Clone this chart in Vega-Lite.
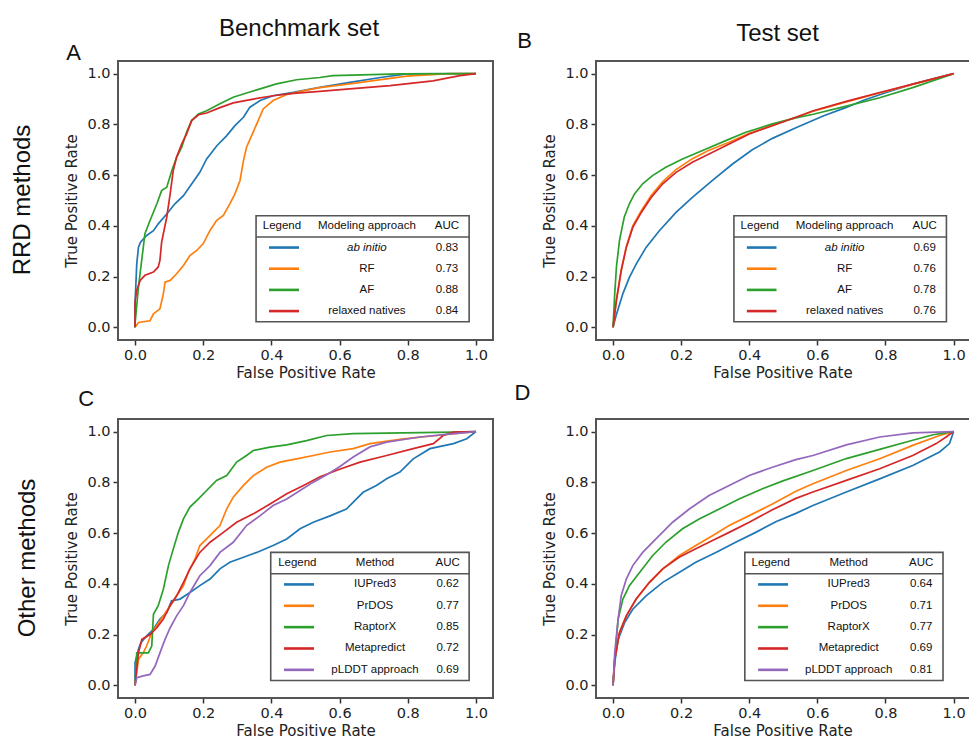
{
  "$schema": "https://vega.github.io/schema/vega-lite/v6.json",
  "background": "white",
  "padding": {"left": 11, "top": 16, "right": 0, "bottom": 0},
  "columns": 2,
  "spacing": {"row": 79, "column": 103},
  "bounds": "flush",
  "config": {
    "view": {"stroke": null},
    "axis": {"grid": false, "domain": false, "labelFont": "DejaVu Sans", "labelFontSize": 14.5, "labelColor": "#222", "titleFont": "DejaVu Sans", "titleFontSize": 15, "titleFontWeight": "normal", "titleColor": "#222", "tickColor": "#333", "tickWidth": 1.5, "tickSize": 5, "labelPadding": 3},
    "text": {"font": "Liberation Sans", "baseline": "middle", "align": "center", "color": "#111"}
  },
  "datasets": {
    "roc": [
      {"panel":"A","method":"ab initio","fpr":0,"tpr":0},{"panel":"A","method":"ab initio","fpr":0,"tpr":0.093},{"panel":"A","method":"ab initio","fpr":0.005,"tpr":0.25},{"panel":"A","method":"ab initio","fpr":0.01,"tpr":0.316},{"panel":"A","method":"ab initio","fpr":0.016,"tpr":0.336},{"panel":"A","method":"ab initio","fpr":0.034,"tpr":0.362},{"panel":"A","method":"ab initio","fpr":0.054,"tpr":0.381},{"panel":"A","method":"ab initio","fpr":0.068,"tpr":0.408},{"panel":"A","method":"ab initio","fpr":0.093,"tpr":0.447},{"panel":"A","method":"ab initio","fpr":0.117,"tpr":0.487},{"panel":"A","method":"ab initio","fpr":0.142,"tpr":0.519},{"panel":"A","method":"ab initio","fpr":0.166,"tpr":0.565},{"panel":"A","method":"ab initio","fpr":0.19,"tpr":0.611},{"panel":"A","method":"ab initio","fpr":0.21,"tpr":0.664},{"panel":"A","method":"ab initio","fpr":0.24,"tpr":0.716},{"panel":"A","method":"ab initio","fpr":0.269,"tpr":0.756},{"panel":"A","method":"ab initio","fpr":0.293,"tpr":0.795},{"panel":"A","method":"ab initio","fpr":0.318,"tpr":0.828},{"panel":"A","method":"ab initio","fpr":0.337,"tpr":0.868},{"panel":"A","method":"ab initio","fpr":0.367,"tpr":0.894},{"panel":"A","method":"ab initio","fpr":0.405,"tpr":0.913},{"panel":"A","method":"ab initio","fpr":0.464,"tpr":0.926},{"panel":"A","method":"ab initio","fpr":0.542,"tpr":0.946},{"panel":"A","method":"ab initio","fpr":0.63,"tpr":0.966},{"panel":"A","method":"ab initio","fpr":0.72,"tpr":0.985},{"panel":"A","method":"ab initio","fpr":0.797,"tpr":0.999},{"panel":"A","method":"ab initio","fpr":1,"tpr":1},
      {"panel":"A","method":"RF","fpr":0,"tpr":0},{"panel":"A","method":"RF","fpr":0.01,"tpr":0.019},{"panel":"A","method":"RF","fpr":0.044,"tpr":0.026},{"panel":"A","method":"RF","fpr":0.054,"tpr":0.053},{"panel":"A","method":"RF","fpr":0.073,"tpr":0.073},{"panel":"A","method":"RF","fpr":0.083,"tpr":0.132},{"panel":"A","method":"RF","fpr":0.088,"tpr":0.178},{"panel":"A","method":"RF","fpr":0.103,"tpr":0.185},{"panel":"A","method":"RF","fpr":0.122,"tpr":0.211},{"panel":"A","method":"RF","fpr":0.142,"tpr":0.244},{"panel":"A","method":"RF","fpr":0.161,"tpr":0.283},{"panel":"A","method":"RF","fpr":0.181,"tpr":0.303},{"panel":"A","method":"RF","fpr":0.2,"tpr":0.33},{"panel":"A","method":"RF","fpr":0.22,"tpr":0.382},{"panel":"A","method":"RF","fpr":0.239,"tpr":0.421},{"panel":"A","method":"RF","fpr":0.259,"tpr":0.441},{"panel":"A","method":"RF","fpr":0.278,"tpr":0.487},{"panel":"A","method":"RF","fpr":0.293,"tpr":0.526},{"panel":"A","method":"RF","fpr":0.308,"tpr":0.579},{"panel":"A","method":"RF","fpr":0.318,"tpr":0.657},{"panel":"A","method":"RF","fpr":0.327,"tpr":0.71},{"panel":"A","method":"RF","fpr":0.342,"tpr":0.756},{"panel":"A","method":"RF","fpr":0.357,"tpr":0.802},{"panel":"A","method":"RF","fpr":0.376,"tpr":0.861},{"panel":"A","method":"RF","fpr":0.405,"tpr":0.894},{"panel":"A","method":"RF","fpr":0.445,"tpr":0.918},{"panel":"A","method":"RF","fpr":0.503,"tpr":0.935},{"panel":"A","method":"RF","fpr":0.542,"tpr":0.945},{"panel":"A","method":"RF","fpr":0.63,"tpr":0.96},{"panel":"A","method":"RF","fpr":0.797,"tpr":0.99},{"panel":"A","method":"RF","fpr":0.92,"tpr":1},{"panel":"A","method":"RF","fpr":1,"tpr":1},
      {"panel":"A","method":"AF","fpr":0,"tpr":0},{"panel":"A","method":"AF","fpr":0,"tpr":0.014},{"panel":"A","method":"AF","fpr":0.01,"tpr":0.159},{"panel":"A","method":"AF","fpr":0.029,"tpr":0.369},{"panel":"A","method":"AF","fpr":0.044,"tpr":0.421},{"panel":"A","method":"AF","fpr":0.064,"tpr":0.487},{"panel":"A","method":"AF","fpr":0.078,"tpr":0.539},{"panel":"A","method":"AF","fpr":0.093,"tpr":0.552},{"panel":"A","method":"AF","fpr":0.108,"tpr":0.618},{"panel":"A","method":"AF","fpr":0.122,"tpr":0.671},{"panel":"A","method":"AF","fpr":0.137,"tpr":0.71},{"panel":"A","method":"AF","fpr":0.151,"tpr":0.769},{"panel":"A","method":"AF","fpr":0.166,"tpr":0.815},{"panel":"A","method":"AF","fpr":0.186,"tpr":0.841},{"panel":"A","method":"AF","fpr":0.21,"tpr":0.854},{"panel":"A","method":"AF","fpr":0.249,"tpr":0.881},{"panel":"A","method":"AF","fpr":0.288,"tpr":0.907},{"panel":"A","method":"AF","fpr":0.327,"tpr":0.924},{"panel":"A","method":"AF","fpr":0.367,"tpr":0.94},{"panel":"A","method":"AF","fpr":0.415,"tpr":0.96},{"panel":"A","method":"AF","fpr":0.474,"tpr":0.976},{"panel":"A","method":"AF","fpr":0.542,"tpr":0.985},{"panel":"A","method":"AF","fpr":0.58,"tpr":0.992},{"panel":"A","method":"AF","fpr":0.777,"tpr":0.999},{"panel":"A","method":"AF","fpr":1,"tpr":1},
      {"panel":"A","method":"relaxed natives","fpr":0,"tpr":0},{"panel":"A","method":"relaxed natives","fpr":0,"tpr":0.1},{"panel":"A","method":"relaxed natives","fpr":0.005,"tpr":0.146},{"panel":"A","method":"relaxed natives","fpr":0.015,"tpr":0.185},{"panel":"A","method":"relaxed natives","fpr":0.029,"tpr":0.205},{"panel":"A","method":"relaxed natives","fpr":0.054,"tpr":0.218},{"panel":"A","method":"relaxed natives","fpr":0.068,"tpr":0.238},{"panel":"A","method":"relaxed natives","fpr":0.073,"tpr":0.264},{"panel":"A","method":"relaxed natives","fpr":0.078,"tpr":0.336},{"panel":"A","method":"relaxed natives","fpr":0.083,"tpr":0.369},{"panel":"A","method":"relaxed natives","fpr":0.093,"tpr":0.434},{"panel":"A","method":"relaxed natives","fpr":0.103,"tpr":0.526},{"panel":"A","method":"relaxed natives","fpr":0.112,"tpr":0.618},{"panel":"A","method":"relaxed natives","fpr":0.122,"tpr":0.671},{"panel":"A","method":"relaxed natives","fpr":0.137,"tpr":0.723},{"panel":"A","method":"relaxed natives","fpr":0.151,"tpr":0.762},{"panel":"A","method":"relaxed natives","fpr":0.166,"tpr":0.815},{"panel":"A","method":"relaxed natives","fpr":0.186,"tpr":0.838},{"panel":"A","method":"relaxed natives","fpr":0.21,"tpr":0.845},{"panel":"A","method":"relaxed natives","fpr":0.249,"tpr":0.866},{"panel":"A","method":"relaxed natives","fpr":0.288,"tpr":0.885},{"panel":"A","method":"relaxed natives","fpr":0.347,"tpr":0.9},{"panel":"A","method":"relaxed natives","fpr":0.405,"tpr":0.913},{"panel":"A","method":"relaxed natives","fpr":0.464,"tpr":0.922},{"panel":"A","method":"relaxed natives","fpr":0.542,"tpr":0.93},{"panel":"A","method":"relaxed natives","fpr":0.63,"tpr":0.94},{"panel":"A","method":"relaxed natives","fpr":0.748,"tpr":0.953},{"panel":"A","method":"relaxed natives","fpr":0.874,"tpr":0.972},{"panel":"A","method":"relaxed natives","fpr":0.953,"tpr":0.992},{"panel":"A","method":"relaxed natives","fpr":1,"tpr":1},

      {"panel":"B","method":"ab initio","fpr":0,"tpr":0},{"panel":"B","method":"ab initio","fpr":0.01,"tpr":0.051},{"panel":"B","method":"ab initio","fpr":0.029,"tpr":0.133},{"panel":"B","method":"ab initio","fpr":0.048,"tpr":0.197},{"panel":"B","method":"ab initio","fpr":0.068,"tpr":0.249},{"panel":"B","method":"ab initio","fpr":0.097,"tpr":0.315},{"panel":"B","method":"ab initio","fpr":0.136,"tpr":0.381},{"panel":"B","method":"ab initio","fpr":0.185,"tpr":0.453},{"panel":"B","method":"ab initio","fpr":0.233,"tpr":0.512},{"panel":"B","method":"ab initio","fpr":0.292,"tpr":0.579},{"panel":"B","method":"ab initio","fpr":0.351,"tpr":0.644},{"panel":"B","method":"ab initio","fpr":0.409,"tpr":0.7},{"panel":"B","method":"ab initio","fpr":0.468,"tpr":0.745},{"panel":"B","method":"ab initio","fpr":0.537,"tpr":0.787},{"panel":"B","method":"ab initio","fpr":0.617,"tpr":0.833},{"panel":"B","method":"ab initio","fpr":0.685,"tpr":0.867},{"panel":"B","method":"ab initio","fpr":0.734,"tpr":0.894},{"panel":"B","method":"ab initio","fpr":0.802,"tpr":0.926},{"panel":"B","method":"ab initio","fpr":0.88,"tpr":0.959},{"panel":"B","method":"ab initio","fpr":1,"tpr":1},
      {"panel":"B","method":"RF","fpr":0,"tpr":0},{"panel":"B","method":"RF","fpr":0.01,"tpr":0.107},{"panel":"B","method":"RF","fpr":0.024,"tpr":0.224},{"panel":"B","method":"RF","fpr":0.039,"tpr":0.318},{"panel":"B","method":"RF","fpr":0.058,"tpr":0.4},{"panel":"B","method":"RF","fpr":0.083,"tpr":0.46},{"panel":"B","method":"RF","fpr":0.112,"tpr":0.52},{"panel":"B","method":"RF","fpr":0.146,"tpr":0.575},{"panel":"B","method":"RF","fpr":0.185,"tpr":0.622},{"panel":"B","method":"RF","fpr":0.233,"tpr":0.665},{"panel":"B","method":"RF","fpr":0.282,"tpr":0.698},{"panel":"B","method":"RF","fpr":0.341,"tpr":0.73},{"panel":"B","method":"RF","fpr":0.4,"tpr":0.765},{"panel":"B","method":"RF","fpr":0.468,"tpr":0.797},{"panel":"B","method":"RF","fpr":0.537,"tpr":0.828},{"panel":"B","method":"RF","fpr":0.588,"tpr":0.852},{"panel":"B","method":"RF","fpr":0.685,"tpr":0.889},{"panel":"B","method":"RF","fpr":0.783,"tpr":0.924},{"panel":"B","method":"RF","fpr":0.88,"tpr":0.958},{"panel":"B","method":"RF","fpr":1,"tpr":1},
      {"panel":"B","method":"AF","fpr":0,"tpr":0},{"panel":"B","method":"AF","fpr":0.005,"tpr":0.133},{"panel":"B","method":"AF","fpr":0.01,"tpr":0.238},{"panel":"B","method":"AF","fpr":0.019,"tpr":0.343},{"panel":"B","method":"AF","fpr":0.033,"tpr":0.435},{"panel":"B","method":"AF","fpr":0.048,"tpr":0.487},{"panel":"B","method":"AF","fpr":0.063,"tpr":0.526},{"panel":"B","method":"AF","fpr":0.087,"tpr":0.566},{"panel":"B","method":"AF","fpr":0.116,"tpr":0.598},{"panel":"B","method":"AF","fpr":0.155,"tpr":0.631},{"panel":"B","method":"AF","fpr":0.204,"tpr":0.664},{"panel":"B","method":"AF","fpr":0.263,"tpr":0.697},{"panel":"B","method":"AF","fpr":0.331,"tpr":0.736},{"panel":"B","method":"AF","fpr":0.39,"tpr":0.769},{"panel":"B","method":"AF","fpr":0.468,"tpr":0.802},{"panel":"B","method":"AF","fpr":0.537,"tpr":0.826},{"panel":"B","method":"AF","fpr":0.588,"tpr":0.84},{"panel":"B","method":"AF","fpr":0.685,"tpr":0.872},{"panel":"B","method":"AF","fpr":0.783,"tpr":0.905},{"panel":"B","method":"AF","fpr":0.88,"tpr":0.945},{"panel":"B","method":"AF","fpr":1,"tpr":1},
      {"panel":"B","method":"relaxed natives","fpr":0,"tpr":0},{"panel":"B","method":"relaxed natives","fpr":0.01,"tpr":0.107},{"panel":"B","method":"relaxed natives","fpr":0.024,"tpr":0.224},{"panel":"B","method":"relaxed natives","fpr":0.039,"tpr":0.315},{"panel":"B","method":"relaxed natives","fpr":0.058,"tpr":0.394},{"panel":"B","method":"relaxed natives","fpr":0.083,"tpr":0.453},{"panel":"B","method":"relaxed natives","fpr":0.112,"tpr":0.512},{"panel":"B","method":"relaxed natives","fpr":0.146,"tpr":0.566},{"panel":"B","method":"relaxed natives","fpr":0.185,"tpr":0.611},{"panel":"B","method":"relaxed natives","fpr":0.233,"tpr":0.651},{"panel":"B","method":"relaxed natives","fpr":0.282,"tpr":0.683},{"panel":"B","method":"relaxed natives","fpr":0.341,"tpr":0.723},{"panel":"B","method":"relaxed natives","fpr":0.4,"tpr":0.762},{"panel":"B","method":"relaxed natives","fpr":0.468,"tpr":0.795},{"panel":"B","method":"relaxed natives","fpr":0.537,"tpr":0.828},{"panel":"B","method":"relaxed natives","fpr":0.588,"tpr":0.854},{"panel":"B","method":"relaxed natives","fpr":0.685,"tpr":0.891},{"panel":"B","method":"relaxed natives","fpr":0.783,"tpr":0.926},{"panel":"B","method":"relaxed natives","fpr":0.88,"tpr":0.959},{"panel":"B","method":"relaxed natives","fpr":1,"tpr":1},

      {"panel":"C","method":"IUPred3","fpr":0,"tpr":0},{"panel":"C","method":"IUPred3","fpr":0,"tpr":0.089},{"panel":"C","method":"IUPred3","fpr":0.01,"tpr":0.142},{"panel":"C","method":"IUPred3","fpr":0.017,"tpr":0.168},{"panel":"C","method":"IUPred3","fpr":0.034,"tpr":0.195},{"panel":"C","method":"IUPred3","fpr":0.054,"tpr":0.221},{"panel":"C","method":"IUPred3","fpr":0.073,"tpr":0.261},{"panel":"C","method":"IUPred3","fpr":0.093,"tpr":0.287},{"panel":"C","method":"IUPred3","fpr":0.107,"tpr":0.333},{"panel":"C","method":"IUPred3","fpr":0.132,"tpr":0.34},{"panel":"C","method":"IUPred3","fpr":0.161,"tpr":0.366},{"panel":"C","method":"IUPred3","fpr":0.19,"tpr":0.393},{"panel":"C","method":"IUPred3","fpr":0.22,"tpr":0.419},{"panel":"C","method":"IUPred3","fpr":0.249,"tpr":0.459},{"panel":"C","method":"IUPred3","fpr":0.278,"tpr":0.485},{"panel":"C","method":"IUPred3","fpr":0.318,"tpr":0.505},{"panel":"C","method":"IUPred3","fpr":0.357,"tpr":0.524},{"panel":"C","method":"IUPred3","fpr":0.405,"tpr":0.551},{"panel":"C","method":"IUPred3","fpr":0.445,"tpr":0.577},{"panel":"C","method":"IUPred3","fpr":0.484,"tpr":0.617},{"panel":"C","method":"IUPred3","fpr":0.523,"tpr":0.643},{"panel":"C","method":"IUPred3","fpr":0.572,"tpr":0.668},{"panel":"C","method":"IUPred3","fpr":0.62,"tpr":0.695},{"panel":"C","method":"IUPred3","fpr":0.669,"tpr":0.761},{"panel":"C","method":"IUPred3","fpr":0.708,"tpr":0.788},{"panel":"C","method":"IUPred3","fpr":0.738,"tpr":0.814},{"panel":"C","method":"IUPred3","fpr":0.777,"tpr":0.841},{"panel":"C","method":"IUPred3","fpr":0.816,"tpr":0.893},{"panel":"C","method":"IUPred3","fpr":0.865,"tpr":0.933},{"panel":"C","method":"IUPred3","fpr":0.934,"tpr":0.953},{"panel":"C","method":"IUPred3","fpr":0.973,"tpr":0.972},{"panel":"C","method":"IUPred3","fpr":1,"tpr":1},
      {"panel":"C","method":"PrDOS","fpr":0,"tpr":0},{"panel":"C","method":"PrDOS","fpr":0.01,"tpr":0.103},{"panel":"C","method":"PrDOS","fpr":0.024,"tpr":0.128},{"panel":"C","method":"PrDOS","fpr":0.034,"tpr":0.155},{"panel":"C","method":"PrDOS","fpr":0.049,"tpr":0.208},{"panel":"C","method":"PrDOS","fpr":0.063,"tpr":0.234},{"panel":"C","method":"PrDOS","fpr":0.083,"tpr":0.274},{"panel":"C","method":"PrDOS","fpr":0.103,"tpr":0.314},{"panel":"C","method":"PrDOS","fpr":0.122,"tpr":0.353},{"panel":"C","method":"PrDOS","fpr":0.142,"tpr":0.393},{"panel":"C","method":"PrDOS","fpr":0.156,"tpr":0.445},{"panel":"C","method":"PrDOS","fpr":0.176,"tpr":0.498},{"panel":"C","method":"PrDOS","fpr":0.19,"tpr":0.551},{"panel":"C","method":"PrDOS","fpr":0.21,"tpr":0.577},{"panel":"C","method":"PrDOS","fpr":0.229,"tpr":0.603},{"panel":"C","method":"PrDOS","fpr":0.249,"tpr":0.63},{"panel":"C","method":"PrDOS","fpr":0.269,"tpr":0.696},{"panel":"C","method":"PrDOS","fpr":0.288,"tpr":0.742},{"panel":"C","method":"PrDOS","fpr":0.318,"tpr":0.788},{"panel":"C","method":"PrDOS","fpr":0.347,"tpr":0.827},{"panel":"C","method":"PrDOS","fpr":0.386,"tpr":0.86},{"panel":"C","method":"PrDOS","fpr":0.425,"tpr":0.88},{"panel":"C","method":"PrDOS","fpr":0.474,"tpr":0.893},{"panel":"C","method":"PrDOS","fpr":0.523,"tpr":0.906},{"panel":"C","method":"PrDOS","fpr":0.572,"tpr":0.92},{"panel":"C","method":"PrDOS","fpr":0.64,"tpr":0.933},{"panel":"C","method":"PrDOS","fpr":0.689,"tpr":0.953},{"panel":"C","method":"PrDOS","fpr":0.787,"tpr":0.972},{"panel":"C","method":"PrDOS","fpr":0.885,"tpr":0.985},{"panel":"C","method":"PrDOS","fpr":1,"tpr":1},
      {"panel":"C","method":"RaptorX","fpr":0,"tpr":0},{"panel":"C","method":"RaptorX","fpr":0.005,"tpr":0.128},{"panel":"C","method":"RaptorX","fpr":0.039,"tpr":0.128},{"panel":"C","method":"RaptorX","fpr":0.049,"tpr":0.155},{"panel":"C","method":"RaptorX","fpr":0.054,"tpr":0.28},{"panel":"C","method":"RaptorX","fpr":0.068,"tpr":0.314},{"panel":"C","method":"RaptorX","fpr":0.083,"tpr":0.379},{"panel":"C","method":"RaptorX","fpr":0.098,"tpr":0.472},{"panel":"C","method":"RaptorX","fpr":0.112,"tpr":0.537},{"panel":"C","method":"RaptorX","fpr":0.127,"tpr":0.603},{"panel":"C","method":"RaptorX","fpr":0.142,"tpr":0.656},{"panel":"C","method":"RaptorX","fpr":0.161,"tpr":0.703},{"panel":"C","method":"RaptorX","fpr":0.186,"tpr":0.735},{"panel":"C","method":"RaptorX","fpr":0.21,"tpr":0.768},{"panel":"C","method":"RaptorX","fpr":0.239,"tpr":0.808},{"panel":"C","method":"RaptorX","fpr":0.269,"tpr":0.827},{"panel":"C","method":"RaptorX","fpr":0.298,"tpr":0.88},{"panel":"C","method":"RaptorX","fpr":0.327,"tpr":0.906},{"panel":"C","method":"RaptorX","fpr":0.347,"tpr":0.926},{"panel":"C","method":"RaptorX","fpr":0.396,"tpr":0.939},{"panel":"C","method":"RaptorX","fpr":0.445,"tpr":0.948},{"panel":"C","method":"RaptorX","fpr":0.503,"tpr":0.965},{"panel":"C","method":"RaptorX","fpr":0.562,"tpr":0.985},{"panel":"C","method":"RaptorX","fpr":0.64,"tpr":0.992},{"panel":"C","method":"RaptorX","fpr":0.934,"tpr":0.998},{"panel":"C","method":"RaptorX","fpr":1,"tpr":1},
      {"panel":"C","method":"Metapredict","fpr":0,"tpr":0},{"panel":"C","method":"Metapredict","fpr":0.01,"tpr":0.128},{"panel":"C","method":"Metapredict","fpr":0.02,"tpr":0.181},{"panel":"C","method":"Metapredict","fpr":0.044,"tpr":0.2},{"panel":"C","method":"Metapredict","fpr":0.064,"tpr":0.227},{"panel":"C","method":"Metapredict","fpr":0.083,"tpr":0.261},{"panel":"C","method":"Metapredict","fpr":0.103,"tpr":0.314},{"panel":"C","method":"Metapredict","fpr":0.122,"tpr":0.353},{"panel":"C","method":"Metapredict","fpr":0.142,"tpr":0.406},{"panel":"C","method":"Metapredict","fpr":0.161,"tpr":0.459},{"panel":"C","method":"Metapredict","fpr":0.19,"tpr":0.524},{"panel":"C","method":"Metapredict","fpr":0.22,"tpr":0.564},{"panel":"C","method":"Metapredict","fpr":0.259,"tpr":0.603},{"panel":"C","method":"Metapredict","fpr":0.298,"tpr":0.643},{"panel":"C","method":"Metapredict","fpr":0.347,"tpr":0.676},{"panel":"C","method":"Metapredict","fpr":0.396,"tpr":0.715},{"panel":"C","method":"Metapredict","fpr":0.445,"tpr":0.755},{"panel":"C","method":"Metapredict","fpr":0.494,"tpr":0.788},{"panel":"C","method":"Metapredict","fpr":0.543,"tpr":0.822},{"panel":"C","method":"Metapredict","fpr":0.6,"tpr":0.852},{"panel":"C","method":"Metapredict","fpr":0.66,"tpr":0.88},{"panel":"C","method":"Metapredict","fpr":0.738,"tpr":0.906},{"panel":"C","method":"Metapredict","fpr":0.816,"tpr":0.933},{"panel":"C","method":"Metapredict","fpr":0.875,"tpr":0.953},{"panel":"C","method":"Metapredict","fpr":0.904,"tpr":0.985},{"panel":"C","method":"Metapredict","fpr":0.934,"tpr":0.998},{"panel":"C","method":"Metapredict","fpr":1,"tpr":1},
      {"panel":"C","method":"pLDDT approach","fpr":0,"tpr":0},{"panel":"C","method":"pLDDT approach","fpr":0.005,"tpr":0.03},{"panel":"C","method":"pLDDT approach","fpr":0.024,"tpr":0.037},{"panel":"C","method":"pLDDT approach","fpr":0.044,"tpr":0.043},{"panel":"C","method":"pLDDT approach","fpr":0.059,"tpr":0.076},{"panel":"C","method":"pLDDT approach","fpr":0.073,"tpr":0.128},{"panel":"C","method":"pLDDT approach","fpr":0.088,"tpr":0.181},{"panel":"C","method":"pLDDT approach","fpr":0.103,"tpr":0.227},{"panel":"C","method":"pLDDT approach","fpr":0.122,"tpr":0.274},{"panel":"C","method":"pLDDT approach","fpr":0.142,"tpr":0.314},{"panel":"C","method":"pLDDT approach","fpr":0.161,"tpr":0.366},{"panel":"C","method":"pLDDT approach","fpr":0.19,"tpr":0.432},{"panel":"C","method":"pLDDT approach","fpr":0.22,"tpr":0.472},{"panel":"C","method":"pLDDT approach","fpr":0.249,"tpr":0.524},{"panel":"C","method":"pLDDT approach","fpr":0.288,"tpr":0.564},{"panel":"C","method":"pLDDT approach","fpr":0.327,"tpr":0.63},{"panel":"C","method":"pLDDT approach","fpr":0.367,"tpr":0.669},{"panel":"C","method":"pLDDT approach","fpr":0.405,"tpr":0.709},{"panel":"C","method":"pLDDT approach","fpr":0.445,"tpr":0.735},{"panel":"C","method":"pLDDT approach","fpr":0.484,"tpr":0.768},{"panel":"C","method":"pLDDT approach","fpr":0.523,"tpr":0.801},{"panel":"C","method":"pLDDT approach","fpr":0.562,"tpr":0.83},{"panel":"C","method":"pLDDT approach","fpr":0.6,"tpr":0.862},{"panel":"C","method":"pLDDT approach","fpr":0.64,"tpr":0.9},{"panel":"C","method":"pLDDT approach","fpr":0.689,"tpr":0.94},{"panel":"C","method":"pLDDT approach","fpr":0.738,"tpr":0.959},{"panel":"C","method":"pLDDT approach","fpr":0.836,"tpr":0.979},{"panel":"C","method":"pLDDT approach","fpr":0.934,"tpr":0.992},{"panel":"C","method":"pLDDT approach","fpr":1,"tpr":1},

      {"panel":"D","method":"IUPred3","fpr":0,"tpr":0},{"panel":"D","method":"IUPred3","fpr":0.005,"tpr":0.089},{"panel":"D","method":"IUPred3","fpr":0.015,"tpr":0.181},{"panel":"D","method":"IUPred3","fpr":0.034,"tpr":0.247},{"panel":"D","method":"IUPred3","fpr":0.058,"tpr":0.3},{"panel":"D","method":"IUPred3","fpr":0.097,"tpr":0.353},{"panel":"D","method":"IUPred3","fpr":0.146,"tpr":0.406},{"panel":"D","method":"IUPred3","fpr":0.194,"tpr":0.445},{"panel":"D","method":"IUPred3","fpr":0.243,"tpr":0.485},{"panel":"D","method":"IUPred3","fpr":0.302,"tpr":0.524},{"panel":"D","method":"IUPred3","fpr":0.36,"tpr":0.564},{"panel":"D","method":"IUPred3","fpr":0.419,"tpr":0.603},{"panel":"D","method":"IUPred3","fpr":0.478,"tpr":0.645},{"panel":"D","method":"IUPred3","fpr":0.537,"tpr":0.678},{"panel":"D","method":"IUPred3","fpr":0.587,"tpr":0.709},{"panel":"D","method":"IUPred3","fpr":0.685,"tpr":0.762},{"panel":"D","method":"IUPred3","fpr":0.783,"tpr":0.814},{"panel":"D","method":"IUPred3","fpr":0.88,"tpr":0.867},{"panel":"D","method":"IUPred3","fpr":0.959,"tpr":0.92},{"panel":"D","method":"IUPred3","fpr":0.988,"tpr":0.953},{"panel":"D","method":"IUPred3","fpr":1,"tpr":1},
      {"panel":"D","method":"PrDOS","fpr":0,"tpr":0},{"panel":"D","method":"PrDOS","fpr":0.005,"tpr":0.103},{"panel":"D","method":"PrDOS","fpr":0.019,"tpr":0.208},{"panel":"D","method":"PrDOS","fpr":0.039,"tpr":0.274},{"panel":"D","method":"PrDOS","fpr":0.068,"tpr":0.34},{"panel":"D","method":"PrDOS","fpr":0.107,"tpr":0.406},{"panel":"D","method":"PrDOS","fpr":0.146,"tpr":0.459},{"panel":"D","method":"PrDOS","fpr":0.194,"tpr":0.511},{"panel":"D","method":"PrDOS","fpr":0.243,"tpr":0.551},{"panel":"D","method":"PrDOS","fpr":0.292,"tpr":0.59},{"panel":"D","method":"PrDOS","fpr":0.341,"tpr":0.63},{"panel":"D","method":"PrDOS","fpr":0.4,"tpr":0.669},{"panel":"D","method":"PrDOS","fpr":0.468,"tpr":0.715},{"panel":"D","method":"PrDOS","fpr":0.537,"tpr":0.765},{"panel":"D","method":"PrDOS","fpr":0.587,"tpr":0.795},{"panel":"D","method":"PrDOS","fpr":0.685,"tpr":0.847},{"panel":"D","method":"PrDOS","fpr":0.783,"tpr":0.893},{"panel":"D","method":"PrDOS","fpr":0.88,"tpr":0.946},{"panel":"D","method":"PrDOS","fpr":0.959,"tpr":0.985},{"panel":"D","method":"PrDOS","fpr":1,"tpr":1},
      {"panel":"D","method":"RaptorX","fpr":0,"tpr":0},{"panel":"D","method":"RaptorX","fpr":0.005,"tpr":0.103},{"panel":"D","method":"RaptorX","fpr":0.015,"tpr":0.261},{"panel":"D","method":"RaptorX","fpr":0.029,"tpr":0.34},{"panel":"D","method":"RaptorX","fpr":0.048,"tpr":0.393},{"panel":"D","method":"RaptorX","fpr":0.078,"tpr":0.445},{"panel":"D","method":"RaptorX","fpr":0.116,"tpr":0.511},{"panel":"D","method":"RaptorX","fpr":0.155,"tpr":0.564},{"panel":"D","method":"RaptorX","fpr":0.204,"tpr":0.617},{"panel":"D","method":"RaptorX","fpr":0.253,"tpr":0.656},{"panel":"D","method":"RaptorX","fpr":0.312,"tpr":0.695},{"panel":"D","method":"RaptorX","fpr":0.37,"tpr":0.735},{"panel":"D","method":"RaptorX","fpr":0.439,"tpr":0.775},{"panel":"D","method":"RaptorX","fpr":0.497,"tpr":0.805},{"panel":"D","method":"RaptorX","fpr":0.587,"tpr":0.847},{"panel":"D","method":"RaptorX","fpr":0.685,"tpr":0.894},{"panel":"D","method":"RaptorX","fpr":0.783,"tpr":0.93},{"panel":"D","method":"RaptorX","fpr":0.88,"tpr":0.966},{"panel":"D","method":"RaptorX","fpr":0.94,"tpr":0.988},{"panel":"D","method":"RaptorX","fpr":1,"tpr":1},
      {"panel":"D","method":"Metapredict","fpr":0,"tpr":0},{"panel":"D","method":"Metapredict","fpr":0.005,"tpr":0.103},{"panel":"D","method":"Metapredict","fpr":0.019,"tpr":0.208},{"panel":"D","method":"Metapredict","fpr":0.039,"tpr":0.274},{"panel":"D","method":"Metapredict","fpr":0.068,"tpr":0.34},{"panel":"D","method":"Metapredict","fpr":0.107,"tpr":0.406},{"panel":"D","method":"Metapredict","fpr":0.146,"tpr":0.459},{"panel":"D","method":"Metapredict","fpr":0.194,"tpr":0.505},{"panel":"D","method":"Metapredict","fpr":0.243,"tpr":0.538},{"panel":"D","method":"Metapredict","fpr":0.292,"tpr":0.571},{"panel":"D","method":"Metapredict","fpr":0.341,"tpr":0.603},{"panel":"D","method":"Metapredict","fpr":0.4,"tpr":0.643},{"panel":"D","method":"Metapredict","fpr":0.468,"tpr":0.692},{"panel":"D","method":"Metapredict","fpr":0.537,"tpr":0.737},{"panel":"D","method":"Metapredict","fpr":0.587,"tpr":0.762},{"panel":"D","method":"Metapredict","fpr":0.685,"tpr":0.808},{"panel":"D","method":"Metapredict","fpr":0.783,"tpr":0.854},{"panel":"D","method":"Metapredict","fpr":0.88,"tpr":0.906},{"panel":"D","method":"Metapredict","fpr":0.949,"tpr":0.953},{"panel":"D","method":"Metapredict","fpr":0.978,"tpr":0.979},{"panel":"D","method":"Metapredict","fpr":1,"tpr":1},
      {"panel":"D","method":"pLDDT approach","fpr":0,"tpr":0},{"panel":"D","method":"pLDDT approach","fpr":0.005,"tpr":0.129},{"panel":"D","method":"pLDDT approach","fpr":0.015,"tpr":0.261},{"panel":"D","method":"pLDDT approach","fpr":0.024,"tpr":0.353},{"panel":"D","method":"pLDDT approach","fpr":0.039,"tpr":0.419},{"panel":"D","method":"pLDDT approach","fpr":0.058,"tpr":0.472},{"panel":"D","method":"pLDDT approach","fpr":0.087,"tpr":0.524},{"panel":"D","method":"pLDDT approach","fpr":0.126,"tpr":0.577},{"panel":"D","method":"pLDDT approach","fpr":0.175,"tpr":0.643},{"panel":"D","method":"pLDDT approach","fpr":0.224,"tpr":0.695},{"panel":"D","method":"pLDDT approach","fpr":0.282,"tpr":0.748},{"panel":"D","method":"pLDDT approach","fpr":0.341,"tpr":0.788},{"panel":"D","method":"pLDDT approach","fpr":0.4,"tpr":0.827},{"panel":"D","method":"pLDDT approach","fpr":0.468,"tpr":0.86},{"panel":"D","method":"pLDDT approach","fpr":0.537,"tpr":0.89},{"panel":"D","method":"pLDDT approach","fpr":0.587,"tpr":0.906},{"panel":"D","method":"pLDDT approach","fpr":0.685,"tpr":0.948},{"panel":"D","method":"pLDDT approach","fpr":0.783,"tpr":0.979},{"panel":"D","method":"pLDDT approach","fpr":0.88,"tpr":0.995},{"panel":"D","method":"pLDDT approach","fpr":1,"tpr":1}
    ],
    "legend": [
      {"panel":"A","method":"ab initio","label":"ab initio","auc":"0.83","rank":1},
      {"panel":"A","method":"RF","label":"RF","auc":"0.73","rank":2},
      {"panel":"A","method":"AF","label":"AF","auc":"0.88","rank":3},
      {"panel":"A","method":"relaxed natives","label":"relaxed natives","auc":"0.84","rank":4},
      {"panel":"B","method":"ab initio","label":"ab initio","auc":"0.69","rank":1},
      {"panel":"B","method":"RF","label":"RF","auc":"0.76","rank":2},
      {"panel":"B","method":"AF","label":"AF","auc":"0.78","rank":3},
      {"panel":"B","method":"relaxed natives","label":"relaxed natives","auc":"0.76","rank":4},
      {"panel":"C","method":"IUPred3","label":"IUPred3","auc":"0.62","rank":1},
      {"panel":"C","method":"PrDOS","label":"PrDOS","auc":"0.77","rank":2},
      {"panel":"C","method":"RaptorX","label":"RaptorX","auc":"0.85","rank":3},
      {"panel":"C","method":"Metapredict","label":"Metapredict","auc":"0.72","rank":4},
      {"panel":"C","method":"pLDDT approach","label":"pLDDT approach","auc":"0.69","rank":5},
      {"panel":"D","method":"IUPred3","label":"IUPred3","auc":"0.64","rank":1},
      {"panel":"D","method":"PrDOS","label":"PrDOS","auc":"0.71","rank":2},
      {"panel":"D","method":"RaptorX","label":"RaptorX","auc":"0.77","rank":3},
      {"panel":"D","method":"Metapredict","label":"Metapredict","auc":"0.69","rank":4},
      {"panel":"D","method":"pLDDT approach","label":"pLDDT approach","auc":"0.81","rank":5}
    ]
  },
  "concat": [
    {
      "width": 375, "height": 279,
      "resolve": {"scale": {"x": "independent", "y": "independent"}},
      "layer": [
        {"data": {"values": [{"t": "frame"}]}, "mark": {"type": "rect", "fill": "transparent", "stroke": "#555", "strokeWidth": 2},
         "encoding": {"x": {"datum": -0.05, "scale": {"domain": [-0.05, 1.05], "nice": false, "zero": false}, "axis": null}, "x2": {"datum": 1.05}, "y": {"datum": -0.05, "scale": {"domain": [-0.05, 1.05], "nice": false, "zero": false}, "axis": null}, "y2": {"datum": 1.05}}},
        {"data": {"name": "roc"}, "transform": [{"filter": "datum.panel === 'A'"}], "mark": {"type": "line", "strokeWidth": 1.7},
         "encoding": {"x": {"field": "fpr", "type": "quantitative", "scale": {"domain": [-0.05, 1.05], "nice": false, "zero": false}, "axis": {"title": "False Positive Rate", "values": [0, 0.2, 0.4, 0.6, 0.8, 1], "format": ".1f", "titlePadding": 4}},
                      "y": {"field": "tpr", "type": "quantitative", "scale": {"domain": [-0.05, 1.05], "nice": false, "zero": false}, "axis": {"title": "True Positive Rate", "values": [0, 0.2, 0.4, 0.6, 0.8, 1], "format": ".1f", "titlePadding": 7}},
                      "color": {"field": "method", "type": "nominal", "legend": null, "scale": {"domain": ["ab initio","RF","AF","relaxed natives","IUPred3","PrDOS","RaptorX","Metapredict","pLDDT approach"], "range": ["#1f77b4","#ff7f0e","#2ca02c","#d62728","#1f77b4","#ff7f0e","#2ca02c","#d62728","#9467bd"]}}}},
        {"data": {"values": [{"t": "A"}]}, "mark": {"type": "text", "fontSize": 22},
         "encoding": {"x": {"datum": -0.18, "scale": {"domain": [-0.05, 1.05], "nice": false, "zero": false}, "axis": null}, "y": {"datum": 1.081, "scale": {"domain": [-0.05, 1.05], "nice": false, "zero": false}, "axis": null}, "text": {"field": "t"}}},
        {"data": {"values": [{"t": "Benchmark set"}]}, "mark": {"type": "text", "fontSize": 24},
         "encoding": {"x": {"datum": 0.481, "scale": {"domain": [-0.05, 1.05], "nice": false, "zero": false}, "axis": null}, "y": {"datum": 1.177, "scale": {"domain": [-0.05, 1.05], "nice": false, "zero": false}, "axis": null}, "text": {"field": "t"}}},
        {"data": {"values": [{"t": "RRD methods"}]}, "mark": {"type": "text", "fontSize": 24, "angle": 270},
         "encoding": {"x": {"datum": -0.328, "scale": {"domain": [-0.05, 1.05], "nice": false, "zero": false}, "axis": null}, "y": {"datum": 0.502, "scale": {"domain": [-0.05, 1.05], "nice": false, "zero": false}, "axis": null}, "text": {"field": "t"}}},
        {"data": {"values": [{"t": "box"}]}, "mark": {"type": "rect", "fill": "white", "stroke": "#555", "strokeWidth": 1.6},
         "encoding": {"x": {"datum": 0.355, "scale": {"domain": [-0.05, 1.05], "nice": false, "zero": false}, "axis": null}, "x2": {"datum": 0.98}, "y": {"datum": -0.5, "scale": {"domain": [-7.808, 5.365], "reverse": true, "nice": false, "zero": false}, "axis": null}, "y2": {"datum": 4.5}}},
        {"data": {"values": [{"t": "sep"}]}, "mark": {"type": "rule", "stroke": "#555", "strokeWidth": 1.6},
         "encoding": {"x": {"datum": 0.355, "scale": {"domain": [-0.05, 1.05], "nice": false, "zero": false}, "axis": null}, "x2": {"datum": 0.98}, "y": {"datum": 0.5, "scale": {"domain": [-7.808, 5.365], "reverse": true, "nice": false, "zero": false}, "axis": null}}},
        {"data": {"values": [{"t": "Legend"}]}, "mark": {"type": "text", "fontSize": 11.5},
         "encoding": {"x": {"datum": 0.431, "scale": {"domain": [-0.05, 1.05], "nice": false, "zero": false}, "axis": null}, "y": {"datum": 0, "scale": {"domain": [-7.808, 5.365], "reverse": true, "nice": false, "zero": false}, "axis": null}, "text": {"field": "t"}}},
        {"data": {"values": [{"t": "Modeling approach"}]}, "mark": {"type": "text", "fontSize": 11.5},
         "encoding": {"x": {"datum": 0.68, "scale": {"domain": [-0.05, 1.05], "nice": false, "zero": false}, "axis": null}, "y": {"datum": 0, "scale": {"domain": [-7.808, 5.365], "reverse": true, "nice": false, "zero": false}, "axis": null}, "text": {"field": "t"}}},
        {"data": {"values": [{"t": "AUC"}]}, "mark": {"type": "text", "fontSize": 11.5},
         "encoding": {"x": {"datum": 0.915, "scale": {"domain": [-0.05, 1.05], "nice": false, "zero": false}, "axis": null}, "y": {"datum": 0, "scale": {"domain": [-7.808, 5.365], "reverse": true, "nice": false, "zero": false}, "axis": null}, "text": {"field": "t"}}},
        {"data": {"name": "legend"}, "transform": [{"filter": "datum.panel === 'A'"}], "mark": {"type": "rule", "strokeWidth": 2.6},
         "encoding": {"x": {"datum": 0.393, "scale": {"domain": [-0.05, 1.05], "nice": false, "zero": false}, "axis": null}, "x2": {"datum": 0.481}, "y": {"field": "rank", "type": "quantitative", "scale": {"domain": [-7.808, 5.365], "reverse": true, "nice": false, "zero": false}, "axis": null},
                      "color": {"field": "method", "type": "nominal", "legend": null, "scale": {"domain": ["ab initio","RF","AF","relaxed natives","IUPred3","PrDOS","RaptorX","Metapredict","pLDDT approach"], "range": ["#1f77b4","#ff7f0e","#2ca02c","#d62728","#1f77b4","#ff7f0e","#2ca02c","#d62728","#9467bd"]}}}},
        {"data": {"name": "legend"}, "transform": [{"filter": "datum.panel === 'A' && datum.label !== 'ab initio'"}], "mark": {"type": "text", "fontSize": 11.5},
         "encoding": {"x": {"datum": 0.68, "scale": {"domain": [-0.05, 1.05], "nice": false, "zero": false}, "axis": null}, "y": {"field": "rank", "type": "quantitative", "scale": {"domain": [-7.808, 5.365], "reverse": true, "nice": false, "zero": false}, "axis": null}, "text": {"field": "label"}}},
        {"data": {"name": "legend"}, "transform": [{"filter": "datum.panel === 'A' && datum.label === 'ab initio'"}], "mark": {"type": "text", "fontSize": 11.5, "fontStyle": "italic"},
         "encoding": {"x": {"datum": 0.68, "scale": {"domain": [-0.05, 1.05], "nice": false, "zero": false}, "axis": null}, "y": {"field": "rank", "type": "quantitative", "scale": {"domain": [-7.808, 5.365], "reverse": true, "nice": false, "zero": false}, "axis": null}, "text": {"field": "label"}}},
        {"data": {"name": "legend"}, "transform": [{"filter": "datum.panel === 'A'"}], "mark": {"type": "text", "fontSize": 11.5},
         "encoding": {"x": {"datum": 0.915, "scale": {"domain": [-0.05, 1.05], "nice": false, "zero": false}, "axis": null}, "y": {"field": "rank", "type": "quantitative", "scale": {"domain": [-7.808, 5.365], "reverse": true, "nice": false, "zero": false}, "axis": null}, "text": {"field": "auc"}}}
      ]
    },
    {
      "width": 373, "height": 279,
      "resolve": {"scale": {"x": "independent", "y": "independent"}},
      "layer": [
        {"data": {"values": [{"t": "frame"}]}, "mark": {"type": "rect", "fill": "transparent", "stroke": "#555", "strokeWidth": 2},
         "encoding": {"x": {"datum": -0.05, "scale": {"domain": [-0.05, 1.0453], "nice": false, "zero": false}, "axis": null}, "x2": {"datum": 1.06}, "y": {"datum": -0.05, "scale": {"domain": [-0.05, 1.05], "nice": false, "zero": false}, "axis": null}, "y2": {"datum": 1.05}}},
        {"data": {"name": "roc"}, "transform": [{"filter": "datum.panel === 'B'"}], "mark": {"type": "line", "strokeWidth": 1.7},
         "encoding": {"x": {"field": "fpr", "type": "quantitative", "scale": {"domain": [-0.05, 1.0453], "nice": false, "zero": false}, "axis": {"title": "False Positive Rate", "values": [0, 0.2, 0.4, 0.6, 0.8, 1], "format": ".1f", "titlePadding": 4}},
                      "y": {"field": "tpr", "type": "quantitative", "scale": {"domain": [-0.05, 1.05], "nice": false, "zero": false}, "axis": {"title": "True Positive Rate", "values": [0, 0.2, 0.4, 0.6, 0.8, 1], "format": ".1f", "titlePadding": 7}},
                      "color": {"field": "method", "type": "nominal", "legend": null, "scale": {"domain": ["ab initio","RF","AF","relaxed natives","IUPred3","PrDOS","RaptorX","Metapredict","pLDDT approach"], "range": ["#1f77b4","#ff7f0e","#2ca02c","#d62728","#1f77b4","#ff7f0e","#2ca02c","#d62728","#9467bd"]}}}},
        {"data": {"values": [{"t": "B"}]}, "mark": {"type": "text", "fontSize": 22},
         "encoding": {"x": {"datum": -0.26, "scale": {"domain": [-0.05, 1.0453], "nice": false, "zero": false}, "axis": null}, "y": {"datum": 1.127, "scale": {"domain": [-0.05, 1.05], "nice": false, "zero": false}, "axis": null}, "text": {"field": "t"}}},
        {"data": {"values": [{"t": "Test set"}]}, "mark": {"type": "text", "fontSize": 24},
         "encoding": {"x": {"datum": 0.483, "scale": {"domain": [-0.05, 1.0453], "nice": false, "zero": false}, "axis": null}, "y": {"datum": 1.156, "scale": {"domain": [-0.05, 1.05], "nice": false, "zero": false}, "axis": null}, "text": {"field": "t"}}},
        {"data": {"values": [{"t": "box"}]}, "mark": {"type": "rect", "fill": "white", "stroke": "#555", "strokeWidth": 1.6},
         "encoding": {"x": {"datum": 0.355, "scale": {"domain": [-0.05, 1.0453], "nice": false, "zero": false}, "axis": null}, "x2": {"datum": 0.979}, "y": {"datum": -0.5, "scale": {"domain": [-7.808, 5.365], "reverse": true, "nice": false, "zero": false}, "axis": null}, "y2": {"datum": 4.5}}},
        {"data": {"values": [{"t": "sep"}]}, "mark": {"type": "rule", "stroke": "#555", "strokeWidth": 1.6},
         "encoding": {"x": {"datum": 0.355, "scale": {"domain": [-0.05, 1.0453], "nice": false, "zero": false}, "axis": null}, "x2": {"datum": 0.979}, "y": {"datum": 0.5, "scale": {"domain": [-7.808, 5.365], "reverse": true, "nice": false, "zero": false}, "axis": null}}},
        {"data": {"values": [{"t": "Legend"}]}, "mark": {"type": "text", "fontSize": 11.5},
         "encoding": {"x": {"datum": 0.431, "scale": {"domain": [-0.05, 1.0453], "nice": false, "zero": false}, "axis": null}, "y": {"datum": 0, "scale": {"domain": [-7.808, 5.365], "reverse": true, "nice": false, "zero": false}, "axis": null}, "text": {"field": "t"}}},
        {"data": {"values": [{"t": "Modeling approach"}]}, "mark": {"type": "text", "fontSize": 11.5},
         "encoding": {"x": {"datum": 0.68, "scale": {"domain": [-0.05, 1.0453], "nice": false, "zero": false}, "axis": null}, "y": {"datum": 0, "scale": {"domain": [-7.808, 5.365], "reverse": true, "nice": false, "zero": false}, "axis": null}, "text": {"field": "t"}}},
        {"data": {"values": [{"t": "AUC"}]}, "mark": {"type": "text", "fontSize": 11.5},
         "encoding": {"x": {"datum": 0.915, "scale": {"domain": [-0.05, 1.0453], "nice": false, "zero": false}, "axis": null}, "y": {"datum": 0, "scale": {"domain": [-7.808, 5.365], "reverse": true, "nice": false, "zero": false}, "axis": null}, "text": {"field": "t"}}},
        {"data": {"name": "legend"}, "transform": [{"filter": "datum.panel === 'B'"}], "mark": {"type": "rule", "strokeWidth": 2.6},
         "encoding": {"x": {"datum": 0.393, "scale": {"domain": [-0.05, 1.0453], "nice": false, "zero": false}, "axis": null}, "x2": {"datum": 0.48}, "y": {"field": "rank", "type": "quantitative", "scale": {"domain": [-7.808, 5.365], "reverse": true, "nice": false, "zero": false}, "axis": null},
                      "color": {"field": "method", "type": "nominal", "legend": null, "scale": {"domain": ["ab initio","RF","AF","relaxed natives","IUPred3","PrDOS","RaptorX","Metapredict","pLDDT approach"], "range": ["#1f77b4","#ff7f0e","#2ca02c","#d62728","#1f77b4","#ff7f0e","#2ca02c","#d62728","#9467bd"]}}}},
        {"data": {"name": "legend"}, "transform": [{"filter": "datum.panel === 'B' && datum.label !== 'ab initio'"}], "mark": {"type": "text", "fontSize": 11.5},
         "encoding": {"x": {"datum": 0.68, "scale": {"domain": [-0.05, 1.0453], "nice": false, "zero": false}, "axis": null}, "y": {"field": "rank", "type": "quantitative", "scale": {"domain": [-7.808, 5.365], "reverse": true, "nice": false, "zero": false}, "axis": null}, "text": {"field": "label"}}},
        {"data": {"name": "legend"}, "transform": [{"filter": "datum.panel === 'B' && datum.label === 'ab initio'"}], "mark": {"type": "text", "fontSize": 11.5, "fontStyle": "italic"},
         "encoding": {"x": {"datum": 0.68, "scale": {"domain": [-0.05, 1.0453], "nice": false, "zero": false}, "axis": null}, "y": {"field": "rank", "type": "quantitative", "scale": {"domain": [-7.808, 5.365], "reverse": true, "nice": false, "zero": false}, "axis": null}, "text": {"field": "label"}}},
        {"data": {"name": "legend"}, "transform": [{"filter": "datum.panel === 'B'"}], "mark": {"type": "text", "fontSize": 11.5},
         "encoding": {"x": {"datum": 0.915, "scale": {"domain": [-0.05, 1.0453], "nice": false, "zero": false}, "axis": null}, "y": {"field": "rank", "type": "quantitative", "scale": {"domain": [-7.808, 5.365], "reverse": true, "nice": false, "zero": false}, "axis": null}, "text": {"field": "auc"}}}
      ]
    },
    {
      "width": 375, "height": 279,
      "resolve": {"scale": {"x": "independent", "y": "independent"}},
      "layer": [
        {"data": {"values": [{"t": "frame"}]}, "mark": {"type": "rect", "fill": "transparent", "stroke": "#555", "strokeWidth": 2},
         "encoding": {"x": {"datum": -0.05, "scale": {"domain": [-0.05, 1.05], "nice": false, "zero": false}, "axis": null}, "x2": {"datum": 1.05}, "y": {"datum": -0.05, "scale": {"domain": [-0.05, 1.05], "nice": false, "zero": false}, "axis": null}, "y2": {"datum": 1.05}}},
        {"data": {"name": "roc"}, "transform": [{"filter": "datum.panel === 'C'"}], "mark": {"type": "line", "strokeWidth": 1.7},
         "encoding": {"x": {"field": "fpr", "type": "quantitative", "scale": {"domain": [-0.05, 1.05], "nice": false, "zero": false}, "axis": {"title": "False Positive Rate", "values": [0, 0.2, 0.4, 0.6, 0.8, 1], "format": ".1f", "titlePadding": 4}},
                      "y": {"field": "tpr", "type": "quantitative", "scale": {"domain": [-0.05, 1.05], "nice": false, "zero": false}, "axis": {"title": "True Positive Rate", "values": [0, 0.2, 0.4, 0.6, 0.8, 1], "format": ".1f", "titlePadding": 7}},
                      "color": {"field": "method", "type": "nominal", "legend": null, "scale": {"domain": ["ab initio","RF","AF","relaxed natives","IUPred3","PrDOS","RaptorX","Metapredict","pLDDT approach"], "range": ["#1f77b4","#ff7f0e","#2ca02c","#d62728","#1f77b4","#ff7f0e","#2ca02c","#d62728","#9467bd"]}}}},
        {"data": {"values": [{"t": "C"}]}, "mark": {"type": "text", "fontSize": 22},
         "encoding": {"x": {"datum": -0.143, "scale": {"domain": [-0.05, 1.05], "nice": false, "zero": false}, "axis": null}, "y": {"datum": 1.13, "scale": {"domain": [-0.05, 1.05], "nice": false, "zero": false}, "axis": null}, "text": {"field": "t"}}},
        {"data": {"values": [{"t": "Other methods"}]}, "mark": {"type": "text", "fontSize": 24, "angle": 270},
         "encoding": {"x": {"datum": -0.313, "scale": {"domain": [-0.05, 1.05], "nice": false, "zero": false}, "axis": null}, "y": {"datum": 0.502, "scale": {"domain": [-0.05, 1.05], "nice": false, "zero": false}, "axis": null}, "text": {"field": "t"}}},
        {"data": {"values": [{"t": "box"}]}, "mark": {"type": "rect", "fill": "white", "stroke": "#555", "strokeWidth": 1.6},
         "encoding": {"x": {"datum": 0.398, "scale": {"domain": [-0.05, 1.05], "nice": false, "zero": false}, "axis": null}, "x2": {"datum": 0.98}, "y": {"datum": -0.5, "scale": {"domain": [-6.746, 6.318], "reverse": true, "nice": false, "zero": false}, "axis": null}, "y2": {"datum": 5.5}}},
        {"data": {"values": [{"t": "sep"}]}, "mark": {"type": "rule", "stroke": "#555", "strokeWidth": 1.6},
         "encoding": {"x": {"datum": 0.398, "scale": {"domain": [-0.05, 1.05], "nice": false, "zero": false}, "axis": null}, "x2": {"datum": 0.98}, "y": {"datum": 0.5, "scale": {"domain": [-6.746, 6.318], "reverse": true, "nice": false, "zero": false}, "axis": null}}},
        {"data": {"values": [{"t": "Legend"}]}, "mark": {"type": "text", "fontSize": 11.5},
         "encoding": {"x": {"datum": 0.476, "scale": {"domain": [-0.05, 1.05], "nice": false, "zero": false}, "axis": null}, "y": {"datum": 0, "scale": {"domain": [-6.746, 6.318], "reverse": true, "nice": false, "zero": false}, "axis": null}, "text": {"field": "t"}}},
        {"data": {"values": [{"t": "Method"}]}, "mark": {"type": "text", "fontSize": 11.5},
         "encoding": {"x": {"datum": 0.704, "scale": {"domain": [-0.05, 1.05], "nice": false, "zero": false}, "axis": null}, "y": {"datum": 0, "scale": {"domain": [-6.746, 6.318], "reverse": true, "nice": false, "zero": false}, "axis": null}, "text": {"field": "t"}}},
        {"data": {"values": [{"t": "AUC"}]}, "mark": {"type": "text", "fontSize": 11.5},
         "encoding": {"x": {"datum": 0.917, "scale": {"domain": [-0.05, 1.05], "nice": false, "zero": false}, "axis": null}, "y": {"datum": 0, "scale": {"domain": [-6.746, 6.318], "reverse": true, "nice": false, "zero": false}, "axis": null}, "text": {"field": "t"}}},
        {"data": {"name": "legend"}, "transform": [{"filter": "datum.panel === 'C'"}], "mark": {"type": "rule", "strokeWidth": 2.6},
         "encoding": {"x": {"datum": 0.437, "scale": {"domain": [-0.05, 1.05], "nice": false, "zero": false}, "axis": null}, "x2": {"datum": 0.525}, "y": {"field": "rank", "type": "quantitative", "scale": {"domain": [-6.746, 6.318], "reverse": true, "nice": false, "zero": false}, "axis": null},
                      "color": {"field": "method", "type": "nominal", "legend": null, "scale": {"domain": ["ab initio","RF","AF","relaxed natives","IUPred3","PrDOS","RaptorX","Metapredict","pLDDT approach"], "range": ["#1f77b4","#ff7f0e","#2ca02c","#d62728","#1f77b4","#ff7f0e","#2ca02c","#d62728","#9467bd"]}}}},
        {"data": {"name": "legend"}, "transform": [{"filter": "datum.panel === 'C'"}], "mark": {"type": "text", "fontSize": 11.5},
         "encoding": {"x": {"datum": 0.704, "scale": {"domain": [-0.05, 1.05], "nice": false, "zero": false}, "axis": null}, "y": {"field": "rank", "type": "quantitative", "scale": {"domain": [-6.746, 6.318], "reverse": true, "nice": false, "zero": false}, "axis": null}, "text": {"field": "label"}}},
        {"data": {"name": "legend"}, "transform": [{"filter": "datum.panel === 'C'"}], "mark": {"type": "text", "fontSize": 11.5},
         "encoding": {"x": {"datum": 0.917, "scale": {"domain": [-0.05, 1.05], "nice": false, "zero": false}, "axis": null}, "y": {"field": "rank", "type": "quantitative", "scale": {"domain": [-6.746, 6.318], "reverse": true, "nice": false, "zero": false}, "axis": null}, "text": {"field": "auc"}}}
      ]
    },
    {
      "width": 373, "height": 279,
      "resolve": {"scale": {"x": "independent", "y": "independent"}},
      "layer": [
        {"data": {"values": [{"t": "frame"}]}, "mark": {"type": "rect", "fill": "transparent", "stroke": "#555", "strokeWidth": 2},
         "encoding": {"x": {"datum": -0.05, "scale": {"domain": [-0.05, 1.0453], "nice": false, "zero": false}, "axis": null}, "x2": {"datum": 1.06}, "y": {"datum": -0.05, "scale": {"domain": [-0.05, 1.05], "nice": false, "zero": false}, "axis": null}, "y2": {"datum": 1.05}}},
        {"data": {"name": "roc"}, "transform": [{"filter": "datum.panel === 'D'"}], "mark": {"type": "line", "strokeWidth": 1.7},
         "encoding": {"x": {"field": "fpr", "type": "quantitative", "scale": {"domain": [-0.05, 1.0453], "nice": false, "zero": false}, "axis": {"title": "False Positive Rate", "values": [0, 0.2, 0.4, 0.6, 0.8, 1], "format": ".1f", "titlePadding": 4}},
                      "y": {"field": "tpr", "type": "quantitative", "scale": {"domain": [-0.05, 1.05], "nice": false, "zero": false}, "axis": {"title": "True Positive Rate", "values": [0, 0.2, 0.4, 0.6, 0.8, 1], "format": ".1f", "titlePadding": 7}},
                      "color": {"field": "method", "type": "nominal", "legend": null, "scale": {"domain": ["ab initio","RF","AF","relaxed natives","IUPred3","PrDOS","RaptorX","Metapredict","pLDDT approach"], "range": ["#1f77b4","#ff7f0e","#2ca02c","#d62728","#1f77b4","#ff7f0e","#2ca02c","#d62728","#9467bd"]}}}},
        {"data": {"values": [{"t": "D"}]}, "mark": {"type": "text", "fontSize": 22},
         "encoding": {"x": {"datum": -0.266, "scale": {"domain": [-0.05, 1.0453], "nice": false, "zero": false}, "axis": null}, "y": {"datum": 1.151, "scale": {"domain": [-0.05, 1.05], "nice": false, "zero": false}, "axis": null}, "text": {"field": "t"}}},
        {"data": {"values": [{"t": "box"}]}, "mark": {"type": "rect", "fill": "white", "stroke": "#555", "strokeWidth": 1.6},
         "encoding": {"x": {"datum": 0.387, "scale": {"domain": [-0.05, 1.0453], "nice": false, "zero": false}, "axis": null}, "x2": {"datum": 0.969}, "y": {"datum": -0.5, "scale": {"domain": [-6.746, 6.318], "reverse": true, "nice": false, "zero": false}, "axis": null}, "y2": {"datum": 5.5}}},
        {"data": {"values": [{"t": "sep"}]}, "mark": {"type": "rule", "stroke": "#555", "strokeWidth": 1.6},
         "encoding": {"x": {"datum": 0.387, "scale": {"domain": [-0.05, 1.0453], "nice": false, "zero": false}, "axis": null}, "x2": {"datum": 0.969}, "y": {"datum": 0.5, "scale": {"domain": [-6.746, 6.318], "reverse": true, "nice": false, "zero": false}, "axis": null}}},
        {"data": {"values": [{"t": "Legend"}]}, "mark": {"type": "text", "fontSize": 11.5},
         "encoding": {"x": {"datum": 0.463, "scale": {"domain": [-0.05, 1.0453], "nice": false, "zero": false}, "axis": null}, "y": {"datum": 0, "scale": {"domain": [-6.746, 6.318], "reverse": true, "nice": false, "zero": false}, "axis": null}, "text": {"field": "t"}}},
        {"data": {"values": [{"t": "Method"}]}, "mark": {"type": "text", "fontSize": 11.5},
         "encoding": {"x": {"datum": 0.692, "scale": {"domain": [-0.05, 1.0453], "nice": false, "zero": false}, "axis": null}, "y": {"datum": 0, "scale": {"domain": [-6.746, 6.318], "reverse": true, "nice": false, "zero": false}, "axis": null}, "text": {"field": "t"}}},
        {"data": {"values": [{"t": "AUC"}]}, "mark": {"type": "text", "fontSize": 11.5},
         "encoding": {"x": {"datum": 0.905, "scale": {"domain": [-0.05, 1.0453], "nice": false, "zero": false}, "axis": null}, "y": {"datum": 0, "scale": {"domain": [-6.746, 6.318], "reverse": true, "nice": false, "zero": false}, "axis": null}, "text": {"field": "t"}}},
        {"data": {"name": "legend"}, "transform": [{"filter": "datum.panel === 'D'"}], "mark": {"type": "rule", "strokeWidth": 2.6},
         "encoding": {"x": {"datum": 0.426, "scale": {"domain": [-0.05, 1.0453], "nice": false, "zero": false}, "axis": null}, "x2": {"datum": 0.514}, "y": {"field": "rank", "type": "quantitative", "scale": {"domain": [-6.746, 6.318], "reverse": true, "nice": false, "zero": false}, "axis": null},
                      "color": {"field": "method", "type": "nominal", "legend": null, "scale": {"domain": ["ab initio","RF","AF","relaxed natives","IUPred3","PrDOS","RaptorX","Metapredict","pLDDT approach"], "range": ["#1f77b4","#ff7f0e","#2ca02c","#d62728","#1f77b4","#ff7f0e","#2ca02c","#d62728","#9467bd"]}}}},
        {"data": {"name": "legend"}, "transform": [{"filter": "datum.panel === 'D'"}], "mark": {"type": "text", "fontSize": 11.5},
         "encoding": {"x": {"datum": 0.692, "scale": {"domain": [-0.05, 1.0453], "nice": false, "zero": false}, "axis": null}, "y": {"field": "rank", "type": "quantitative", "scale": {"domain": [-6.746, 6.318], "reverse": true, "nice": false, "zero": false}, "axis": null}, "text": {"field": "label"}}},
        {"data": {"name": "legend"}, "transform": [{"filter": "datum.panel === 'D'"}], "mark": {"type": "text", "fontSize": 11.5},
         "encoding": {"x": {"datum": 0.905, "scale": {"domain": [-0.05, 1.0453], "nice": false, "zero": false}, "axis": null}, "y": {"field": "rank", "type": "quantitative", "scale": {"domain": [-6.746, 6.318], "reverse": true, "nice": false, "zero": false}, "axis": null}, "text": {"field": "auc"}}}
      ]
    }
  ]
}
